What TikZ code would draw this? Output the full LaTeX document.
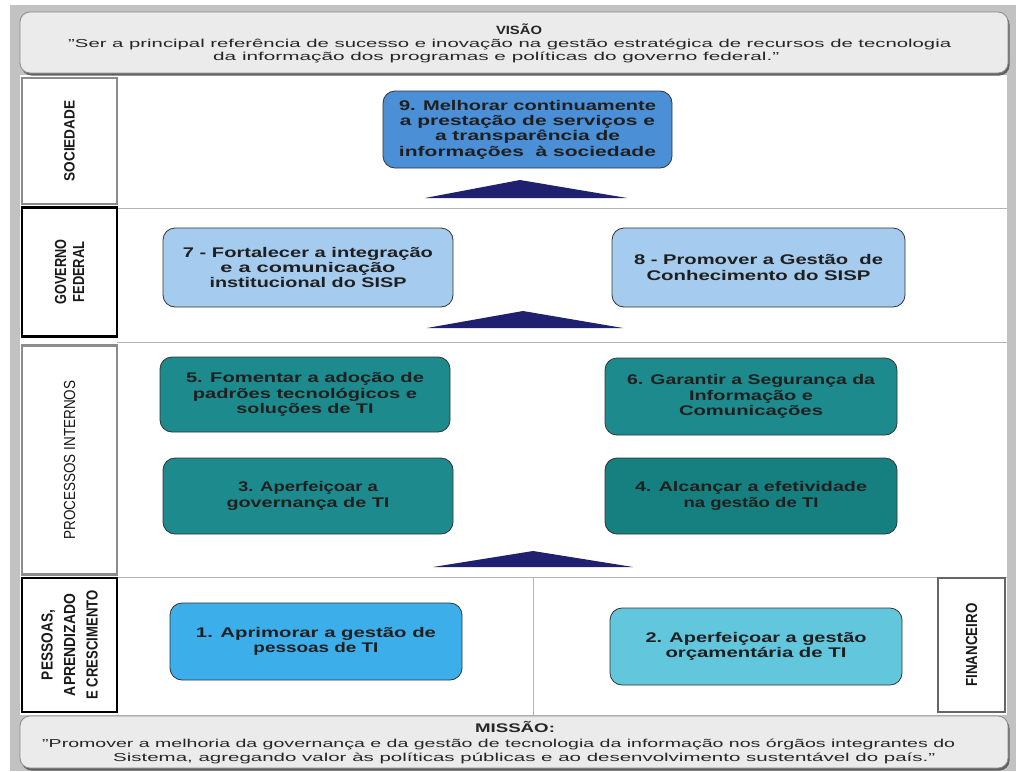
\documentclass[tikz,border=0pt]{standalone}
\usepackage{fontspec}
\usepackage{graphicx}
\setmainfont{Liberation Sans}
\newcommand\sx[2]{\resizebox{#1}{\height}{#2}}
\definecolor{framegray}{HTML}{C2C2C2}
\definecolor{visfill}{HTML}{EBEBEB}
\definecolor{cnine}{HTML}{4B8FD7}
\definecolor{cgov}{HTML}{A5CCEF}
\definecolor{cteal}{HTML}{1D8B8D}
\definecolor{ctealdk}{HTML}{15807F}
\definecolor{cone}{HTML}{3CAFEA}
\definecolor{ctwo}{HTML}{62C6DD}
\definecolor{navy}{HTML}{202070}
\definecolor{sepgray}{HTML}{B4B4B4}
\definecolor{labgray}{HTML}{8C8C8C}
\begin{document}
\begin{tikzpicture}[x=1pt,y=-1pt,
  obj/.style={draw=black!80, line width=0.8pt, rounded corners=12pt, inner sep=0pt,
    align=center, text=black!88, font=\fontsize{14}{15.3}\selectfont\bfseries},
  labbox/.style={rotate=90, inner sep=0pt, align=center, fill=white, text=black!90},
  sepline/.style={draw=sepgray, line width=0.8pt},
  bigbox/.style={fill=visfill, draw=black!45, line width=0.8pt, rounded corners=10pt, inner sep=0pt},
  shade/.style={fill=black!62, rounded corners=10pt, inner sep=0pt},
  tri/.style={fill=navy},
  vtext/.style={inner sep=0pt, text=black!85, font=\fontsize{11.5}{13}\selectfont}
]
\useasboundingbox (0,0) rectangle (1016,771);
\fill[white] (0,0) rectangle (1016,771);
\fill[framegray] (10,5) rectangle (1016,771);
\fill[white] (20,75) rectangle (1007,715);

% separators
\draw[sepline] (117,208) -- (1007,208);
\draw[sepline] (117,342) -- (1007,342);
\draw[sepline] (117,577) -- (1007,577);
\draw[sepline] (533,577) -- (533,715);

% vision box
\node[shade, minimum width=988pt, minimum height=61pt] (vshadow) at (515.5,45) {};
\node[bigbox, minimum width=988pt, minimum height=61pt] (visao) at (514,42.5) {};
\node[vtext, anchor=base, font=\fontsize{12}{13}\selectfont\bfseries] (vtitle) at (519,34) {\sx{46pt}{VISÃO}};
\node[vtext, anchor=base west] (vl1) at (68,47) {\sx{883pt}{"Ser a principal referência de sucesso e inovação na gestão estratégica de recursos de tecnologia}};
\node[vtext, anchor=base west] (vl2) at (213,60) {\sx{566pt}{da informação dos programas e políticas do governo federal."}};

% mission box
\node[shade, minimum width=988pt, minimum height=52pt] (mshadow) at (515.5,744.5) {};
\node[bigbox, minimum width=988pt, minimum height=52pt] (missao) at (514,742) {};
\node[vtext, anchor=base, font=\fontsize{12.5}{13}\selectfont\bfseries] (mtitle) at (515,732) {\sx{80pt}{MISSÃO:}};
\node[vtext, anchor=base west] (ml1) at (42,747) {\sx{913pt}{"Promover a melhoria da governança e da gestão de tecnologia da informação nos órgãos integrantes do}};
\node[vtext, anchor=base west] (ml2) at (113,761) {\sx{822pt}{Sistema, agregando valor às políticas públicas e ao desenvolvimento sustentável do país."}};

% perspective labels
\node[labbox, draw=labgray, line width=2.5pt, minimum width=126pt, minimum height=95pt,
  font=\fontsize{15}{16}\selectfont\bfseries] (lsoc) at (69.5,141) {\sx{81pt}{SOCIEDADE}};
\node[labbox, draw=black, line width=2.5pt, minimum width=129pt, minimum height=95pt,
  font=\fontsize{16}{18}\selectfont\bfseries] (lgov) at (69.5,272) {\sx{65pt}{GOVERNO}\\\sx{61pt}{FEDERAL}};
\node[labbox, draw=labgray, line width=2.5pt, minimum width=229pt, minimum height=95pt,
  font=\fontsize{16}{17}\selectfont] (lproc) at (69.5,460) {\sx{159pt}{PROCESSOS INTERNOS}};
\node[labbox, draw=black, line width=2.5pt, minimum width=134pt, minimum height=95pt,
  font=\fontsize{16}{22.5}\selectfont\bfseries] (lpes) at (69.5,645) {\sx{70pt}{PESSOAS,}\\\sx{102pt}{APRENDIZADO}\\\sx{109pt}{E CRESCIMENTO}};
\node[labbox, draw=black!60, line width=2pt, minimum width=134pt, minimum height=67pt,
  font=\fontsize{16}{17}\selectfont\bfseries] (lfin) at (971.5,645) {\sx{83pt}{FINANCEIRO}};

% objectives
\node[obj, fill=cnine, minimum width=289pt, minimum height=77pt] (o9) at (527.5,129.5)
  {\sx{257pt}{9. Melhorar continuamente}\\\sx{255pt}{a prestação de serviços e}\\\sx{185pt}{a transparência de}\\\sx{257pt}{informações \ à sociedade}};
\node[obj, fill=cgov, minimum width=290pt, minimum height=79pt] (o7) at (308,267.5)
  {\sx{250pt}{7 - Fortalecer a integração}\\\sx{175pt}{e a comunicação}\\\sx{197pt}{institucional do SISP}};
\node[obj, fill=cgov, minimum width=293pt, minimum height=79pt] (o8) at (758.5,267.5)
  {\sx{249pt}{8 - Promover a Gestão \ de}\\\sx{224pt}{Conhecimento do SISP}};
\node[obj, fill=cteal, minimum width=290pt, minimum height=75pt] (o5) at (305,394.5)
  {\sx{238pt}{5. Fomentar a adoção de}\\\sx{224pt}{padrões tecnológicos e}\\\sx{137pt}{soluções de TI}};
\node[obj, fill=cteal, minimum width=292pt, minimum height=77pt] (o6) at (751,396.5)
  {\sx{248pt}{6. Garantir a Segurança da}\\\sx{124pt}{Informação e}\\\sx{144pt}{Comunicações}};
\node[obj, fill=cteal, minimum width=290pt, minimum height=76pt] (o3) at (308,496)
  {\sx{140pt}{3. Aperfeiçoar a}\\\sx{163pt}{governança de TI}};
\node[obj, fill=ctealdk, minimum width=292pt, minimum height=76pt] (o4) at (751,496)
  {\sx{232pt}{4. Alcançar a efetividade}\\\sx{135pt}{na gestão de TI}};
\node[obj, fill=cone, minimum width=292pt, minimum height=77pt] (o1) at (316,641.5)
  {\sx{240pt}{1. Aprimorar a gestão de}\\\sx{125pt}{pessoas de TI}};
\node[obj, fill=ctwo, minimum width=292pt, minimum height=77pt] (o2) at (756,646.5)
  {\sx{221pt}{2. Aperfeiçoar a gestão}\\\sx{181pt}{orçamentária de TI}};

% upward triangles
\fill[tri] (425,198) -- (520,180) -- (627,198) -- cycle;
\fill[tri] (427,328) -- (523,311) -- (623,328) -- cycle;
\fill[tri] (433,567) -- (533,551) -- (633,567) -- cycle;
\end{tikzpicture}
\end{document}
